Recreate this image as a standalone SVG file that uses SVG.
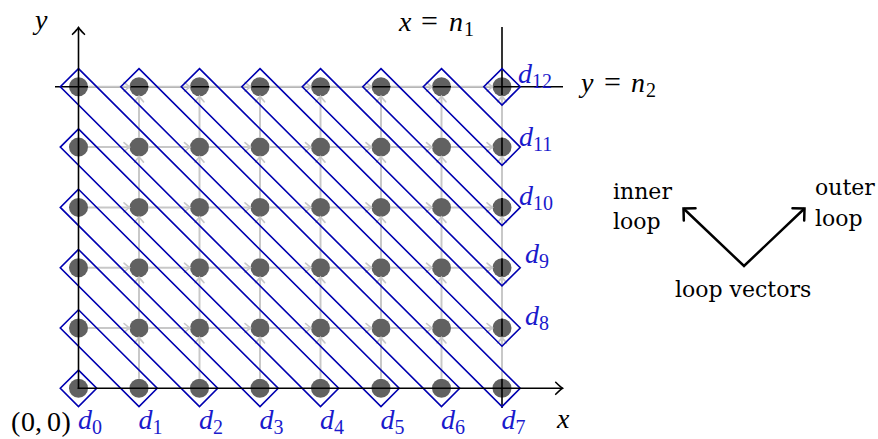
<svg xmlns="http://www.w3.org/2000/svg" width="878" height="439" viewBox="0 0 878 439">
<defs>
<style>
.dot{fill:#616161}
.grid{stroke:#c8c8c8;stroke-width:2;fill:none;marker-end:url(#ga)}
.diag{fill:none;stroke:#0000b0;stroke-width:1.6;stroke-linejoin:miter}
.ax{stroke:#000;stroke-width:1.6;fill:none}
.bnd{stroke:#000;stroke-width:1.6;fill:none}
.math{font-family:"Liberation Serif",serif;font-style:italic;font-size:28px;fill:#000}
.up{font-style:normal}
.eq{font-style:normal;font-size:30px}
.sub{font-style:normal;font-size:20px}
.lbl{fill:#1a1acc}
.txt{font-family:"DejaVu Serif",serif;font-size:22px;fill:#000}
.vec{stroke:#000;stroke-width:2.5;fill:none;stroke-linejoin:miter}
</style>
<marker id="ga" markerUnits="userSpaceOnUse" markerWidth="14" markerHeight="14" viewBox="-7 -7 14 14" refX="0" refY="0" orient="auto" overflow="visible">
<path d="M-5.5,-4.5 Q-1.5,-1 0,0 Q-1.5,1 -5.5,4.5" fill="none" stroke="#c8c8c8" stroke-width="1.6" stroke-linecap="round"/>
</marker>
<marker id="aa" markerUnits="userSpaceOnUse" markerWidth="16" markerHeight="16" viewBox="-8 -8 16 16" refX="0" refY="0" orient="auto" overflow="visible">
<path d="M-6.8,-6 Q-2,-1.2 0,0 Q-2,1.2 -6.8,6" fill="none" stroke="#000" stroke-width="1.6" stroke-linecap="round"/>
</marker>
<marker id="va" markerUnits="userSpaceOnUse" markerWidth="24" markerHeight="24" viewBox="-12 -12 24 24" refX="0" refY="0" orient="auto-start-reverse" overflow="visible">
<path d="M-8.5,-8.5 L0,0 L-8.5,8.5" fill="none" stroke="#000" stroke-width="2.5" stroke-linecap="round" stroke-linejoin="miter"/>
</marker>
</defs>

<g id="dots">
<g id="row0"><circle class="dot" cx="78.5" cy="388.3" r="9.5"/><circle class="dot" cx="139" cy="388.3" r="9.5"/><circle class="dot" cx="199.5" cy="388.3" r="9.5"/><circle class="dot" cx="260" cy="388.3" r="9.5"/><circle class="dot" cx="320.5" cy="388.3" r="9.5"/><circle class="dot" cx="381" cy="388.3" r="9.5"/><circle class="dot" cx="441.5" cy="388.3" r="9.5"/><circle class="dot" cx="502" cy="388.3" r="9.5"/></g>
<g id="row1"><circle class="dot" cx="78.5" cy="328" r="9.5"/><circle class="dot" cx="139" cy="328" r="9.5"/><circle class="dot" cx="199.5" cy="328" r="9.5"/><circle class="dot" cx="260" cy="328" r="9.5"/><circle class="dot" cx="320.5" cy="328" r="9.5"/><circle class="dot" cx="381" cy="328" r="9.5"/><circle class="dot" cx="441.5" cy="328" r="9.5"/><circle class="dot" cx="502" cy="328" r="9.5"/></g>
<g id="row2"><circle class="dot" cx="78.5" cy="267.7" r="9.5"/><circle class="dot" cx="139" cy="267.7" r="9.5"/><circle class="dot" cx="199.5" cy="267.7" r="9.5"/><circle class="dot" cx="260" cy="267.7" r="9.5"/><circle class="dot" cx="320.5" cy="267.7" r="9.5"/><circle class="dot" cx="381" cy="267.7" r="9.5"/><circle class="dot" cx="441.5" cy="267.7" r="9.5"/><circle class="dot" cx="502" cy="267.7" r="9.5"/></g>
<g id="row3"><circle class="dot" cx="78.5" cy="207.4" r="9.5"/><circle class="dot" cx="139" cy="207.4" r="9.5"/><circle class="dot" cx="199.5" cy="207.4" r="9.5"/><circle class="dot" cx="260" cy="207.4" r="9.5"/><circle class="dot" cx="320.5" cy="207.4" r="9.5"/><circle class="dot" cx="381" cy="207.4" r="9.5"/><circle class="dot" cx="441.5" cy="207.4" r="9.5"/><circle class="dot" cx="502" cy="207.4" r="9.5"/></g>
<g id="row4"><circle class="dot" cx="78.5" cy="147.1" r="9.5"/><circle class="dot" cx="139" cy="147.1" r="9.5"/><circle class="dot" cx="199.5" cy="147.1" r="9.5"/><circle class="dot" cx="260" cy="147.1" r="9.5"/><circle class="dot" cx="320.5" cy="147.1" r="9.5"/><circle class="dot" cx="381" cy="147.1" r="9.5"/><circle class="dot" cx="441.5" cy="147.1" r="9.5"/><circle class="dot" cx="502" cy="147.1" r="9.5"/></g>
<g id="row5"><circle class="dot" cx="78.5" cy="86.8" r="9.5"/><circle class="dot" cx="139" cy="86.8" r="9.5"/><circle class="dot" cx="199.5" cy="86.8" r="9.5"/><circle class="dot" cx="260" cy="86.8" r="9.5"/><circle class="dot" cx="320.5" cy="86.8" r="9.5"/><circle class="dot" cx="381" cy="86.8" r="9.5"/><circle class="dot" cx="441.5" cy="86.8" r="9.5"/><circle class="dot" cx="502" cy="86.8" r="9.5"/></g>
</g>

<g id="bounds">
<line class="bnd" x1="502" y1="27" x2="502" y2="408"/>
<line class="bnd" x1="55" y1="86.8" x2="563" y2="86.8"/>
</g>

<g id="connectors">
<line class="grid" x1="88" y1="328" x2="129.5" y2="328"/><line class="grid" x1="148.5" y1="328" x2="190" y2="328"/><line class="grid" x1="209" y1="328" x2="250.5" y2="328"/><line class="grid" x1="269.5" y1="328" x2="311" y2="328"/><line class="grid" x1="330" y1="328" x2="371.5" y2="328"/><line class="grid" x1="390.5" y1="328" x2="432" y2="328"/><line class="grid" x1="451" y1="328" x2="492.5" y2="328"/>
<line class="grid" x1="88" y1="267.7" x2="129.5" y2="267.7"/><line class="grid" x1="148.5" y1="267.7" x2="190" y2="267.7"/><line class="grid" x1="209" y1="267.7" x2="250.5" y2="267.7"/><line class="grid" x1="269.5" y1="267.7" x2="311" y2="267.7"/><line class="grid" x1="330" y1="267.7" x2="371.5" y2="267.7"/><line class="grid" x1="390.5" y1="267.7" x2="432" y2="267.7"/><line class="grid" x1="451" y1="267.7" x2="492.5" y2="267.7"/>
<line class="grid" x1="88" y1="207.4" x2="129.5" y2="207.4"/><line class="grid" x1="148.5" y1="207.4" x2="190" y2="207.4"/><line class="grid" x1="209" y1="207.4" x2="250.5" y2="207.4"/><line class="grid" x1="269.5" y1="207.4" x2="311" y2="207.4"/><line class="grid" x1="330" y1="207.4" x2="371.5" y2="207.4"/><line class="grid" x1="390.5" y1="207.4" x2="432" y2="207.4"/><line class="grid" x1="451" y1="207.4" x2="492.5" y2="207.4"/>
<line class="grid" x1="88" y1="147.1" x2="129.5" y2="147.1"/><line class="grid" x1="148.5" y1="147.1" x2="190" y2="147.1"/><line class="grid" x1="209" y1="147.1" x2="250.5" y2="147.1"/><line class="grid" x1="269.5" y1="147.1" x2="311" y2="147.1"/><line class="grid" x1="330" y1="147.1" x2="371.5" y2="147.1"/><line class="grid" x1="390.5" y1="147.1" x2="432" y2="147.1"/><line class="grid" x1="451" y1="147.1" x2="492.5" y2="147.1"/>
<line class="grid" x1="88" y1="86.8" x2="129.5" y2="86.8"/><line class="grid" x1="148.5" y1="86.8" x2="190" y2="86.8"/><line class="grid" x1="209" y1="86.8" x2="250.5" y2="86.8"/><line class="grid" x1="269.5" y1="86.8" x2="311" y2="86.8"/><line class="grid" x1="330" y1="86.8" x2="371.5" y2="86.8"/><line class="grid" x1="390.5" y1="86.8" x2="432" y2="86.8"/><line class="grid" x1="451" y1="86.8" x2="492.5" y2="86.8"/>
<line class="grid" x1="139" y1="378.8" x2="139" y2="337.5"/><line class="grid" x1="139" y1="318.5" x2="139" y2="277.2"/><line class="grid" x1="139" y1="258.2" x2="139" y2="216.9"/><line class="grid" x1="139" y1="197.9" x2="139" y2="156.6"/><line class="grid" x1="139" y1="137.6" x2="139" y2="96.3"/>
<line class="grid" x1="199.5" y1="378.8" x2="199.5" y2="337.5"/><line class="grid" x1="199.5" y1="318.5" x2="199.5" y2="277.2"/><line class="grid" x1="199.5" y1="258.2" x2="199.5" y2="216.9"/><line class="grid" x1="199.5" y1="197.9" x2="199.5" y2="156.6"/><line class="grid" x1="199.5" y1="137.6" x2="199.5" y2="96.3"/>
<line class="grid" x1="260" y1="378.8" x2="260" y2="337.5"/><line class="grid" x1="260" y1="318.5" x2="260" y2="277.2"/><line class="grid" x1="260" y1="258.2" x2="260" y2="216.9"/><line class="grid" x1="260" y1="197.9" x2="260" y2="156.6"/><line class="grid" x1="260" y1="137.6" x2="260" y2="96.3"/>
<line class="grid" x1="320.5" y1="378.8" x2="320.5" y2="337.5"/><line class="grid" x1="320.5" y1="318.5" x2="320.5" y2="277.2"/><line class="grid" x1="320.5" y1="258.2" x2="320.5" y2="216.9"/><line class="grid" x1="320.5" y1="197.9" x2="320.5" y2="156.6"/><line class="grid" x1="320.5" y1="137.6" x2="320.5" y2="96.3"/>
<line class="grid" x1="381" y1="378.8" x2="381" y2="337.5"/><line class="grid" x1="381" y1="318.5" x2="381" y2="277.2"/><line class="grid" x1="381" y1="258.2" x2="381" y2="216.9"/><line class="grid" x1="381" y1="197.9" x2="381" y2="156.6"/><line class="grid" x1="381" y1="137.6" x2="381" y2="96.3"/>
<line class="grid" x1="441.5" y1="378.8" x2="441.5" y2="337.5"/><line class="grid" x1="441.5" y1="318.5" x2="441.5" y2="277.2"/><line class="grid" x1="441.5" y1="258.2" x2="441.5" y2="216.9"/><line class="grid" x1="441.5" y1="197.9" x2="441.5" y2="156.6"/><line class="grid" x1="441.5" y1="137.6" x2="441.5" y2="96.3"/>
<line class="grid" x1="502" y1="378.8" x2="502" y2="337.5"/><line class="grid" x1="502" y1="318.5" x2="502" y2="277.2"/><line class="grid" x1="502" y1="258.2" x2="502" y2="216.9"/><line class="grid" x1="502" y1="197.9" x2="502" y2="156.6"/><line class="grid" x1="502" y1="137.6" x2="502" y2="96.3"/>
</g>

<g id="diagonals">
<polygon id="d0" class="diag" points="78.5,370.1 96.7,388.3 78.5,406.5 60.3,388.3"/>
<polygon id="d1" class="diag" points="78.5,309.8 157.2,388.3 139,406.5 60.3,328"/>
<polygon id="d2" class="diag" points="78.5,249.5 217.7,388.3 199.5,406.5 60.3,267.7"/>
<polygon id="d3" class="diag" points="78.5,189.2 278.2,388.3 260,406.5 60.3,207.4"/>
<polygon id="d4" class="diag" points="78.5,128.9 338.7,388.3 320.5,406.5 60.3,147.1"/>
<polygon id="d5" class="diag" points="78.5,68.6 399.2,388.3 381,406.5 60.3,86.8"/>
<polygon id="d6" class="diag" points="139,68.6 459.7,388.3 441.5,406.5 120.8,86.8"/>
<polygon id="d7" class="diag" points="199.5,68.6 520.2,388.3 502,406.5 181.3,86.8"/>
<polygon id="d8" class="diag" points="260,68.6 520.2,328 502,346.2 241.8,86.8"/>
<polygon id="d9" class="diag" points="320.5,68.6 520.2,267.7 502,285.9 302.3,86.8"/>
<polygon id="d10" class="diag" points="381,68.6 520.2,207.4 502,225.6 362.8,86.8"/>
<polygon id="d11" class="diag" points="441.5,68.6 520.2,147.1 502,165.3 423.3,86.8"/>
<polygon id="d12" class="diag" points="502,68.6 520.2,86.8 502,105 483.8,86.8"/>
</g>

<g id="axes">
<line class="ax" x1="78.5" y1="389" x2="78.5" y2="27.5" marker-end="url(#aa)"/>
<line class="ax" x1="77.7" y1="388.3" x2="562.5" y2="388.3" marker-end="url(#aa)"/>
</g>

<g id="axis-labels" class="math">
<text x="35" y="29">y</text>
<text x="557" y="428">x</text>
<text y="31"><tspan x="399">x</tspan><tspan class="eq" x="421">=</tspan><tspan x="449">n</tspan><tspan class="sub" x="464" y="36">1</tspan></text>
<text y="92"><tspan x="581">y</tspan><tspan class="eq" x="604">=</tspan><tspan x="631">n</tspan><tspan class="sub" x="646" y="97">2</tspan></text>
<text class="up" x="11 21 35 47 61.5" y="431">(0,0)</text>
</g>

<g id="diag-labels" class="math lbl">
<text y="429"><tspan x="78">d</tspan><tspan class="sub" x="92" y="434">0</tspan></text>
<text y="429"><tspan x="138.5">d</tspan><tspan class="sub" x="152.5" y="434">1</tspan></text>
<text y="429"><tspan x="199">d</tspan><tspan class="sub" x="213" y="434">2</tspan></text>
<text y="429"><tspan x="259.5">d</tspan><tspan class="sub" x="273.5" y="434">3</tspan></text>
<text y="429"><tspan x="320">d</tspan><tspan class="sub" x="334" y="434">4</tspan></text>
<text y="429"><tspan x="380.5">d</tspan><tspan class="sub" x="394.5" y="434">5</tspan></text>
<text y="429"><tspan x="441">d</tspan><tspan class="sub" x="455" y="434">6</tspan></text>
<text y="429"><tspan x="501.5">d</tspan><tspan class="sub" x="515.5" y="434">7</tspan></text>
<text y="325"><tspan x="525">d</tspan><tspan class="sub" x="539" y="330">8</tspan></text>
<text y="263"><tspan x="525">d</tspan><tspan class="sub" x="539" y="268">9</tspan></text>
<text y="205"><tspan x="519">d</tspan><tspan class="sub" x="533" y="210">10</tspan></text>
<text y="146"><tspan x="519">d</tspan><tspan class="sub" x="533" y="151">11</tspan></text>
<text y="83"><tspan x="518">d</tspan><tspan class="sub" x="532" y="88">12</tspan></text>
</g>

<g id="loop-vectors">
<polyline class="vec" points="683.5,208.5 744,266 804.5,208.5" marker-start="url(#va)" marker-end="url(#va)"/>
<text class="txt" x="613" y="199">inner</text>
<text class="txt" x="613" y="229">loop</text>
<text class="txt" x="815" y="195">outer</text>
<text class="txt" x="815" y="226">loop</text>
<text class="txt" x="675" y="297">loop vectors</text>
</g>
</svg>
